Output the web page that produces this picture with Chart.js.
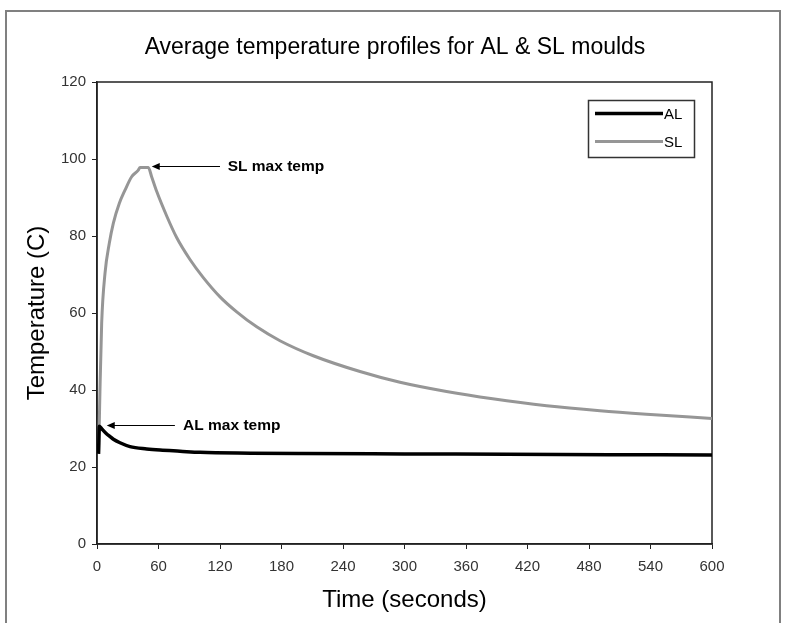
<!DOCTYPE html>
<html>
<head>
<meta charset="utf-8">
<script src="https://cdn.jsdelivr.net/npm/chart.js@4.4.1/dist/chart.umd.min.js"></script>
<style>
  html,body{margin:0;padding:0;background:#fff;}
  canvas{display:block;}
</style>
</head>
<body>
<canvas id="tempChart" width="790" height="623"></canvas>
<script>
// Average temperature profiles, AL vs SL moulds
const AL_TIME = [1.5, 2.3, 5, 9, 12.7, 16, 22.4, 32.2, 48.5, 61.5, 81, 100.5, 150, 200, 300, 400, 500, 600];
const AL_TEMP = [23.4, 30.6, 29.8, 28.7, 27.9, 27.2, 26.3, 25.3, 24.7, 24.4, 24.1, 23.8, 23.6, 23.5, 23.4, 23.3, 23.2, 23.1];

const SL_TIME = [1.5, 2.2, 2.9, 4.55, 7.8, 12, 15.9, 21.8, 27.3, 33.8, 40.3, 42, 50.1, 53.3, 58.2, 68, 77.7, 90.7, 103.7,
                 120, 136.3, 155.8, 178.5, 211, 256.6, 295.6, 341, 386, 438.7, 490.7, 536, 600];
const SL_TEMP = [23.5, 31, 40, 57.3, 70.3, 78.1, 83.3, 88.5, 91.9, 95.4, 97.1, 97.8, 97.8, 95.4, 91.6, 85.2, 79.6, 73.9, 69.2,
                 64.2, 60.3, 56.4, 52.8, 48.9, 44.8, 42.0, 39.6, 37.7, 35.9, 34.6, 33.7, 32.6];

const SERIES_LABELS = ['AL', 'SL'];
const Y_TICKS = [0, 20, 40, 60, 80, 100, 120];
const X_TICKS = [0, 60, 120, 180, 240, 300, 360, 420, 480, 540, 600];

// callouts: label, arrow tip (x,y), arrow tail x, text start x (data units)
const NOTE_LABELS = ['SL max temp', 'AL max temp'];
const NOTE_TIP_X  = [53.4, 9.5];
const NOTE_TIP_Y  = [98.2, 30.9];
const NOTE_TAIL_X = [120, 76];
const NOTE_TEXT_X = [127.5, 84];

const FONT = "'Liberation Sans', Arial, sans-serif";
const tickColor = '#333';
const tickFont = {family:FONT, size:15};

function toPoints(xs, ys){ return xs.map((x,i)=>({x, y:ys[i]})); }

// outer frame + plot frame
const framePlugin = {
  id:'frames',
  beforeDraw(chart){
    const c = chart.ctx;
    c.save();
    c.fillStyle = '#fff';
    c.fillRect(0,0,chart.width,chart.height);
    c.strokeStyle = '#808080';
    c.lineWidth = 2;
    c.strokeRect(6, 11, 774, 640);
    c.restore();
  },
  beforeDatasetsDraw(chart){
    const a = chart.chartArea, c = chart.ctx;
    c.save();
    c.strokeStyle = '#222';
    c.lineWidth = 1.5;
    c.strokeRect(a.left, a.top, a.right-a.left, a.bottom-a.top);
    c.restore();
  }
};

// arrows with text
const notesPlugin = {
  id:'notes',
  afterDatasetsDraw(chart){
    const c = chart.ctx, xs = chart.scales.x, ys = chart.scales.y;
    c.save();
    c.strokeStyle = '#000';
    c.fillStyle = '#000';
    c.lineWidth = 1;
    c.font = "bold 15.5px " + FONT;
    c.textBaseline = 'middle';
    NOTE_LABELS.forEach((lbl,i)=>{
      const tx = xs.getPixelForValue(NOTE_TIP_X[i]);
      const ty = Math.round(ys.getPixelForValue(NOTE_TIP_Y[i])) + 0.5;
      const ex = xs.getPixelForValue(NOTE_TAIL_X[i]);
      c.beginPath(); c.moveTo(ex, ty); c.lineTo(tx+4, ty); c.stroke();
      c.beginPath(); c.moveTo(tx, ty); c.lineTo(tx+8, ty-3.5); c.lineTo(tx+8, ty+3.5); c.closePath(); c.fill();
      c.fillText(lbl, xs.getPixelForValue(NOTE_TEXT_X[i]), ty);
    });
    c.restore();
  }
};

// boxed legend in the top right corner
const legendBoxPlugin = {
  id:'legendBox',
  afterDraw(chart){
    const c = chart.ctx;
    c.save();
    c.strokeStyle = '#333';
    c.lineWidth = 1.5;
    c.strokeRect(588.5, 100.5, 106, 57);
    c.font = "15px " + FONT;
    c.textBaseline = 'middle';
    c.fillStyle = '#000';
    chart.data.datasets.forEach((ds,i)=>{
      const y = 113.5 + i*28;
      c.strokeStyle = ds.borderColor;
      c.lineWidth = ds.borderWidth;
      c.beginPath(); c.moveTo(595, y); c.lineTo(663, y); c.stroke();
      c.fillText(ds.label, 664, y+1);
    });
    c.restore();
  }
};

new Chart(document.getElementById('tempChart'), {
  type:'line',
  data:{datasets:[
    {label:SERIES_LABELS[0], data:toPoints(AL_TIME, AL_TEMP), borderColor:'#000', borderWidth:3.5,
     pointRadius:0, cubicInterpolationMode:'monotone', fill:false},
    {label:SERIES_LABELS[1], data:toPoints(SL_TIME, SL_TEMP), borderColor:'#969696', borderWidth:3,
     pointRadius:0, cubicInterpolationMode:'monotone', fill:false}
  ]},
  options:{
    responsive:false, animation:false, devicePixelRatio:1,
    layout:{padding:0},
    plugins:{
      legend:{display:false},
      tooltip:{enabled:false},
      title:{display:true, text:'Average temperature profiles for AL & SL moulds', color:'#000',
             font:{family:FONT, size:23, weight:'normal', lineHeight:1.2},
             padding:{top:34, bottom:20.4}}
    },
    scales:{
      x:{type:'linear', min:0, max:600,
         afterBuildTicks:s=>{ s.ticks = X_TICKS.map(v=>({value:v})); },
         afterFit:s=>{ s.height = 79; },
         ticks:{color:tickColor, font:tickFont, padding:9, maxRotation:0, autoSkip:false},
         grid:{drawOnChartArea:false, drawTicks:true, tickLength:5, color:'#222'},
         border:{display:true, color:'#222', width:1.5},
         title:{display:true, text:'Time (seconds)', color:'#000',
                font:{family:FONT, size:24, lineHeight:1.2}, padding:{top:0, bottom:8}}},
      y:{min:0, max:120,
         afterBuildTicks:s=>{ s.ticks = Y_TICKS.map(v=>({value:v})); },
         afterFit:s=>{ s.width = 97; },
         ticks:{color:tickColor, font:tickFont, padding:6},
         grid:{drawOnChartArea:false, drawTicks:true, tickLength:5, color:'#222'},
         border:{display:true, color:'#222', width:1.5},
         title:{display:true, text:'Temperature (C)', color:'#000',
                font:{family:FONT, size:24, lineHeight:1.2}, padding:{top:23, bottom:0}}},
      // empty right-hand axis: only reserves the margin so the title centres on the whole figure
      yRight:{position:'right', min:0, max:120, display:true,
         afterFit:s=>{ s.width = 78; },
         ticks:{display:false}, grid:{display:false, drawTicks:false}, border:{display:false}}
    }
  },
  plugins:[framePlugin, notesPlugin, legendBoxPlugin]
});
</script>
</body>
</html>
